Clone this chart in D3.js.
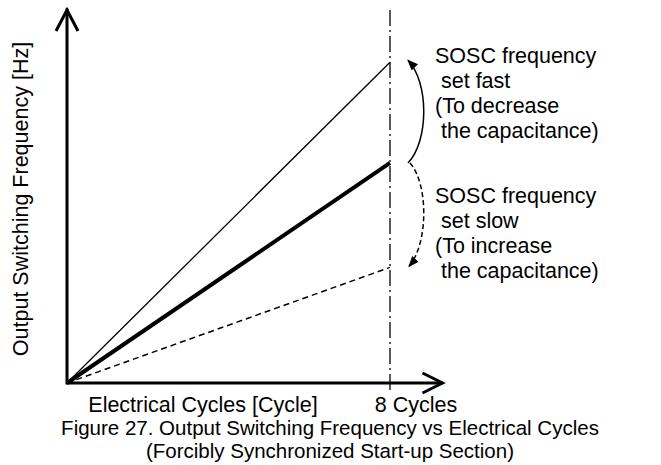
<!DOCTYPE html>
<html>
<head>
<meta charset="utf-8">
<script src="https://cdn.jsdelivr.net/npm/d3@7"></script>
<style>
  body { margin: 0; background: #fff; }
  svg text { font-family: "Liberation Sans", Arial, sans-serif; fill: #000; }
</style>
</head>
<body>
<svg id="chart" width="661" height="465"></svg>
<script>
// chart data (frequency in arbitrary units, axis has no numbers)
var cycles = [0, 8];
var fastFreq = [0, 86];      // SOSC set fast
var nominalFreq = [0, 59];   // nominal
var slowFreq = [0, 31];      // SOSC set slow
var markCycle = 8;
var xLabel = 'Electrical Cycles [Cycle]';
var markLabel = '8 Cycles';
var yLabel = 'Output Switching Frequency [Hz]';
var fastNote = ['SOSC frequency', ' set fast', '(To decrease', ' the capacitance)'];
var slowNote = ['SOSC frequency', ' set slow', '(To increase', ' the capacitance)'];
var caption = ['Figure 27. Output Switching Frequency vs Electrical Cycles',
               '(Forcibly Synchronized Start-up Section)'];

var svg = d3.select('#chart');

var x = d3.scaleLinear().domain([0, 8]).range([67, 390]);
var y = d3.scaleLinear().domain([0, 100]).range([383, 10]);
var xEnd = 9.3;

var defs = svg.append('defs');
defs.append('marker')
    .attr('id', 'head')
    .attr('viewBox', '0 0 10 10')
    .attr('refX', 9).attr('refY', 5)
    .attr('markerWidth', 11).attr('markerHeight', 11)
    .attr('markerUnits', 'userSpaceOnUse')
    .attr('orient', 'auto')
    .append('path')
    .attr('d', 'M0,1 L10,5 L0,9 Z')
    .attr('fill', '#000');

// dash-dot marker line at 8 cycles
svg.append('line')
    .attr('x1', x(markCycle)).attr('x2', x(markCycle))
    .attr('y1', y(100)).attr('y2', y(0) + 9)
    .attr('stroke', '#000').attr('stroke-width', 1.3)
    .attr('stroke-dasharray', '16,4,2,4');

// the three frequency ramps
function series(vals) {
    return cycles.map(function(c, i) { return [c, vals[i]]; });
}
var line = d3.line().x(function(d) { return x(d[0]); }).y(function(d) { return y(d[1]); });

svg.append('path').attr('d', line(series(fastFreq)))
    .attr('fill', 'none').attr('stroke', '#000').attr('stroke-width', 1.3);
svg.append('path').attr('d', line(series(slowFreq)))
    .attr('fill', 'none').attr('stroke', '#000').attr('stroke-width', 1.5)
    .attr('stroke-dasharray', '6,4');
svg.append('path').attr('d', line(series(nominalFreq)))
    .attr('fill', 'none').attr('stroke', '#000').attr('stroke-width', 4);

// axes with open arrow heads
var axes = svg.append('g').attr('stroke', '#000').attr('stroke-width', 3).attr('fill', 'none');
axes.append('path')
    .attr('d', 'M' + x(0) + ',' + y(0) + 'V' + y(100))
    .attr('stroke-linecap', 'square');
axes.append('path')
    .attr('d', 'M' + (x(0) - 11) + ',' + (y(100) + 21) + 'L' + x(0) + ',' + y(100) + 'L' + (x(0) + 11) + ',' + (y(100) + 21));
axes.append('path')
    .attr('d', 'M' + x(0) + ',' + y(0) + 'H' + x(xEnd));
axes.append('path')
    .attr('d', 'M' + (x(xEnd) - 20) + ',' + (y(0) - 10) + 'L' + x(xEnd) + ',' + y(0) + 'L' + (x(xEnd) - 20) + ',' + (y(0) + 10));

// curved arrows between the ramps
var ax = x(markCycle) + 18;
function arc(x0, y0, x1, y1, bulge) {
    var p = d3.path();
    var dir = y1 < y0 ? -1 : 1;
    p.moveTo(x0, y0);
    p.bezierCurveTo(x0 + bulge, y0 + dir * 22, x1 + bulge, y1 - dir * 22, x1, y1);
    return p.toString();
}
svg.append('path').attr('d', arc(ax, y(nominalFreq[1]), ax, y(fastFreq[1]) - 2, 21))
    .attr('fill', 'none').attr('stroke', '#000').attr('stroke-width', 1.5)
    .attr('marker-end', 'url(#head)');

svg.append('path').attr('d', arc(ax + 2, y(nominalFreq[1]), ax + 1, y(slowFreq[1]) - 1, 19))
    .attr('fill', 'none').attr('stroke', '#000').attr('stroke-width', 1.5)
    .attr('stroke-dasharray', '5,3')
    .attr('marker-end', 'url(#head)');

// annotation text
function note(lines, top) {
    var t = svg.append('text').attr('font-size', 21.5).attr('xml:space', 'preserve');
    lines.forEach(function(s, i) {
        t.append('tspan').attr('x', 435).attr('y', top + i * 25).text(s);
    });
}
note(fastNote, 63);
note(slowNote, 203);

// axis labels
svg.append('text').attr('x', 203).attr('y', 412).attr('text-anchor', 'middle')
    .attr('font-size', 21.5).text(xLabel);
svg.append('text').attr('x', x(markCycle) + 26).attr('y', 412).attr('text-anchor', 'middle')
    .attr('font-size', 21.5).text(markLabel);
svg.append('text')
    .attr('transform', 'translate(28,199) rotate(-90)')
    .attr('text-anchor', 'middle').attr('font-size', 21.5).text(yLabel);

// figure caption
svg.append('text').attr('x', 330).attr('y', 435).attr('text-anchor', 'middle')
    .attr('font-size', 20.5).text(caption[0]);
svg.append('text').attr('x', 330).attr('y', 458).attr('text-anchor', 'middle')
    .attr('font-size', 20.5).text(caption[1]);
</script>
</body>
</html>
